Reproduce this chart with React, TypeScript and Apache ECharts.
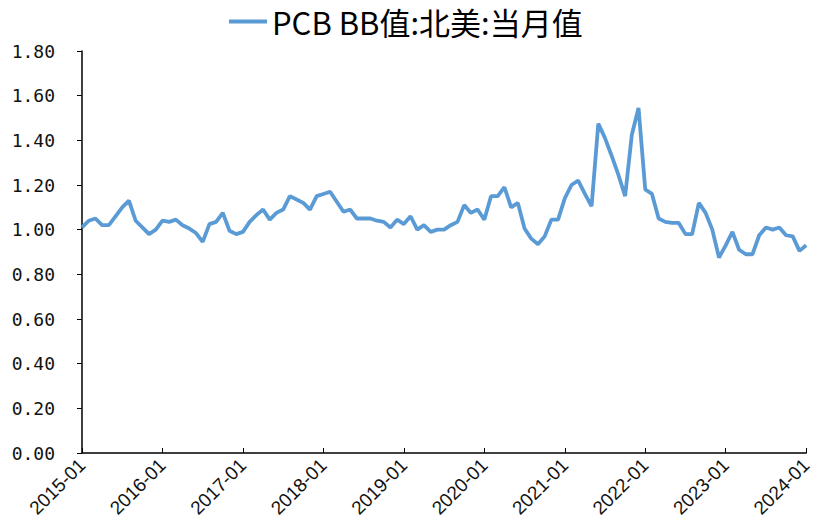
import React, { useEffect, useRef } from "react";
import * as echarts from "echarts";

const seriesName = "PCB BB值:北美:当月值";

const startYear = 2015;
const monthCount = 109;
const categories: string[] = [];
for (let i = 0; i < monthCount; i++) {
  const y = startYear + Math.floor(i / 12);
  const m = (i % 12) + 1;
  categories.push(`${y}-${m < 10 ? "0" + m : m}`);
}

const values2015 = [1.01, 1.04, 1.05, 1.02, 1.02, 1.06, 1.10, 1.13, 1.04, 1.01, 0.98, 1.00];
const values2016 = [1.04, 1.035, 1.045, 1.02, 1.005, 0.985, 0.945, 1.025, 1.035, 1.075, 0.995, 0.98];
const values2017 = [0.99, 1.035, 1.065, 1.09, 1.045, 1.075, 1.09, 1.15, 1.135, 1.12, 1.09, 1.15];
const values2018 = [1.16, 1.17, 1.125, 1.08, 1.09, 1.05, 1.05, 1.05, 1.04, 1.035, 1.01, 1.045];
const values2019 = [1.025, 1.06, 1.00, 1.02, 0.99, 1.00, 1.00, 1.02, 1.035, 1.11, 1.075, 1.09];
const values2020 = [1.045, 1.15, 1.15, 1.19, 1.10, 1.12, 1.005, 0.96, 0.935, 0.97, 1.045, 1.045];
const values2021 = [1.14, 1.20, 1.22, 1.16, 1.105, 1.475, 1.41, 1.33, 1.245, 1.15, 1.425, 1.545];
const values2022 = [1.18, 1.16, 1.05, 1.035, 1.03, 1.03, 0.98, 0.98, 1.12, 1.075, 1.00, 0.875];
const values2023 = [0.93, 0.99, 0.91, 0.89, 0.89, 0.975, 1.01, 1.00, 1.01, 0.975, 0.97, 0.905];
const values2024 = [0.93];

const values = [
  ...values2015, ...values2016, ...values2017, ...values2018, ...values2019,
  ...values2020, ...values2021, ...values2022, ...values2023, ...values2024,
];

const yMin = 0;
const yMax = 1.8;
const yInterval = 0.2;

export default function App() {
  const ref = useRef<HTMLDivElement>(null);
  useEffect(() => {
    if (!ref.current) return;
    const chart = echarts.init(ref.current, undefined, { renderer: "svg" });
    chart.setOption({
      animation: false,
      backgroundColor: "#ffffff",
      legend: {
        data: [seriesName],
        top: 1,
        left: 224,
        itemWidth: 38,
        itemHeight: 4,
        itemGap: 4,
        icon: "rect",
        textStyle: {
          fontFamily: "Noto Sans CJK SC",
          fontSize: 31,
          color: "#000",
        },
      },
      grid: { left: 82, right: 6, top: 51, bottom: 79 },
      xAxis: {
        type: "category",
        data: categories,
        boundaryGap: false,
        axisLine: { lineStyle: { color: "#000", width: 1.5 } },
        axisTick: { inside: true, interval: 11, length: 5, lineStyle: { color: "#000" } },
        axisLabel: {
          interval: 11,
          rotate: 45,
          margin: 9,
          fontFamily: "Liberation Sans",
          fontSize: 19,
          color: "#111",
        },
        splitLine: { show: false },
      },
      yAxis: {
        type: "value",
        min: yMin,
        max: yMax,
        interval: yInterval,
        axisLine: { show: true, lineStyle: { color: "#000", width: 1.5 } },
        axisTick: { show: true, inside: false, length: 5, lineStyle: { color: "#000" } },
        axisLabel: {
          margin: 27,
          fontFamily: "DejaVu Sans Mono",
          fontSize: 18,
          color: "#111",
          formatter: (v: number) => v.toFixed(2),
        },
        splitLine: { show: false },
      },
      series: [
        {
          name: seriesName,
          type: "line",
          data: values,
          showSymbol: false,
          symbol: "none",
          lineStyle: { color: "#5B9BD5", width: 3.8 },
          itemStyle: { color: "#5B9BD5" },
        },
      ],
    });
    return () => chart.dispose();
  }, []);
  return (
    <div
      ref={ref}
      style={{ position: "absolute", left: 0, top: 0, width: 815, height: 532 }}
    />
  );
}
